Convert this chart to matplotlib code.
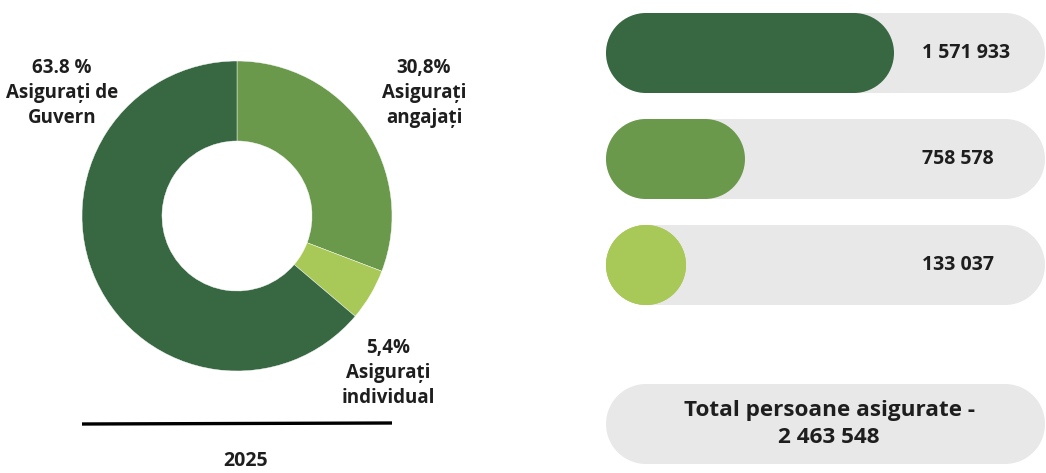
import matplotlib
matplotlib.use("Agg")
import matplotlib.pyplot as plt
from matplotlib.patches import Rectangle, Ellipse

plt.rcParams['font.family'] = ['Open Sans', 'DejaVu Sans']

# ---- data ----
categories = ["Asigurați angajați", "Asigurați individual", "Asigurați de Guvern"]
shares = [30.8, 5.4, 63.8]
share_labels = ["30,8%\nAsigurați\nangajați", "5,4%\nAsigurați\nindividual", "63.8 %\nAsigurați de\nGuvern"]
colors = ["#6a994c", "#a8c957", "#376842"]

bar_values = [1571933, 758578, 133037]
bar_labels = ["1 571 933", "758 578", "133 037"]
bar_colors = ["#376842", "#6a994c", "#a8c957"]
total_label = "Total persoane asigurate -\n2 463 548"
year_label = "2025"

W, H = 1046, 473
fig = plt.figure(figsize=(W / 100, H / 100), dpi=100)

# ---- donut ----
cx, cy, R, r_in = 237, 216, 155, 75
ax_d = fig.add_axes([(cx - R) / W, (H - cy - R) / H, 2 * R / W, 2 * R / H])
ax_d.pie(shares, colors=colors, startangle=90, counterclock=False, radius=1,
         wedgeprops=dict(width=(R - r_in) / R, edgecolor="white", linewidth=0.3))
ax_d.set_xlim(-1, 1)
ax_d.set_ylim(-1, 1)
ax_d.set_aspect("equal")
ax_d.axis("off")

# ---- overlay (pixel coords) ----
ov = fig.add_axes([0, 0, 1, 1])
ov.set_xlim(0, W)
ov.set_ylim(H, 0)
ov.axis("off")
ov.patch.set_alpha(0)

tc = "#1e1e1e"
fs = 13.5
label_pos = [(424, 93), (388, 373), (62, 93)]
for (x, y), txt in zip(label_pos, share_labels):
    ov.text(x, y, txt, ha="center", va="center", fontsize=fs, fontweight="bold",
            color=tc, linespacing=1.36)

ov.plot([82, 392], [424, 423], color="black", lw=2.4, solid_capstyle="butt")
ov.text(246, 461, year_label, ha="center", va="center", fontsize=14,
        fontweight="bold", color=tc)

# ---- rounded bars ----
x0_px, track_px, max_px = 606, 440, 288
ax_b = fig.add_axes([x0_px / W, 0, track_px / W, 1])
vmax = max(bar_values)
ux = vmax / max_px  # value units per pixel
ax_b.set_xlim(0, track_px * ux)
ax_b.set_ylim(H, 0)
ax_b.axis("off")
ax_b.patch.set_alpha(0)

bh = 80
centers = [53, 159, 265]
track_color = "#e8e8e8"


def pill(ax, x, yc, w, color):
    r = bh / 2
    rx = r * ux
    w = max(w, 2 * rx)
    ax.add_patch(Rectangle((x + rx, yc - r), w - 2 * rx, bh, facecolor=color,
                           edgecolor="none"))
    for ex in (x + rx, x + w - rx):
        ax.add_patch(Ellipse((ex, yc), 2 * rx, bh, facecolor=color, edgecolor="none"))


for v, lab, c, yc in zip(bar_values, bar_labels, bar_colors, centers):
    pill(ax_b, 0, yc, (track_px - 1) * ux, track_color)
    pill(ax_b, 0, yc, v, c)
    ax_b.text((922 - x0_px) * ux, yc, lab, ha="left", va="center", fontsize=14,
              fontweight="bold", color=tc)

pill(ax_b, 0, 424, (track_px - 1) * ux, track_color)
ax_b.text((829 - x0_px) * ux, 424, total_label, ha="center", va="center",
          fontsize=16.2, fontweight="bold", color=tc, linespacing=1.32)

fig.savefig("out.png", dpi=100)
